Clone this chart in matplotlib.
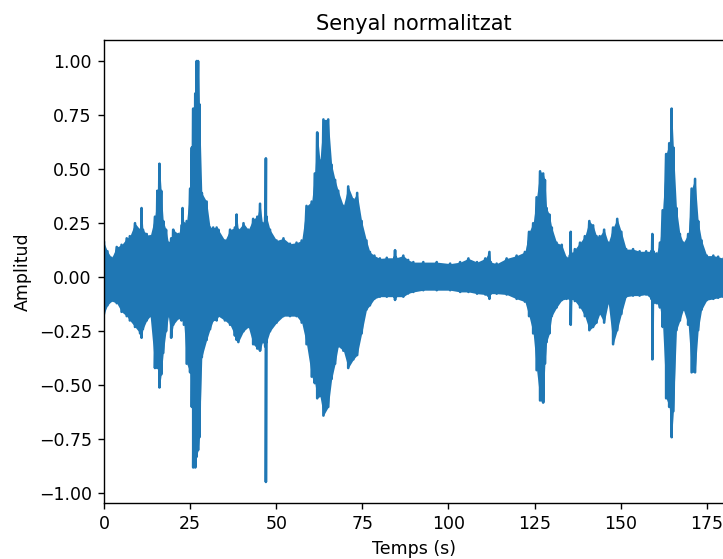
import numpy as np
import matplotlib
matplotlib.use("Agg")
import matplotlib.pyplot as plt
from matplotlib.ticker import MultipleLocator

# envelope of the normalised signal: time (s), positive peak, negative peak
temps = [0.0, 1.0, 2.2, 3.7, 5.1, 6.6, 7.5, 9.0, 10.5, 10.9, 11.3, 12.4, 13.4,
         14.8, 15.5, 16.1, 16.6, 17.2, 18.0, 18.7, 19.5, 20.1, 21.6, 22.5, 22.8,
         23.2, 24.0, 25.0, 25.5, 25.9, 26.5, 26.9, 27.3, 27.7, 28.4, 29.8, 30.8,
         31.7, 32.7, 33.2, 35.1, 36.6, 38.0, 38.5, 39.0, 40.5, 41.9, 43.3, 44.5,
         45.3, 46.0, 46.8, 47.0, 47.2, 48.2, 50.1, 52.1, 54.0, 55.9, 57.4, 58.8,
         60.3, 61.2, 61.9, 62.7, 63.7, 65.1, 66.1, 67.1, 68.0, 69.5, 70.9, 72.4,
         73.5, 74.8, 76.2, 77.2, 78.5, 80.1, 82.1, 84.3, 84.5, 84.8, 86.9, 88.3,
         89.8, 92.7, 96.6, 100.5, 103.4, 105.8, 108.3, 110.7, 111.9, 112.3, 114.0,
         116.9, 119.8, 122.2, 123.4, 124.6, 125.6, 126.6, 127.5, 128.0, 128.5,
         129.3, 130.0, 131.4, 132.9, 134.3, 135.2, 135.5, 135.8, 136.7, 138.2,
         139.6, 140.9, 142.0, 143.0, 143.9, 145.2, 146.4, 147.8, 149.0, 150.2,
         151.6, 153.6, 155.5, 157.4, 158.9, 159.2, 159.5, 160.4, 161.4, 162.2,
         163.2, 164.1, 164.8, 165.3, 166.2, 167.2, 168.2, 169.6, 170.6, 171.6,
         172.5, 173.5, 175.0, 176.9, 178.3, 179.9]

pic_sup = [0.16, 0.12, 0.09, 0.14, 0.15, 0.18, 0.19, 0.25, 0.22, 0.32, 0.22, 0.20, 0.19,
           0.28, 0.40, 0.525, 0.40, 0.26, 0.22, 0.16, 0.18, 0.22, 0.20, 0.24, 0.32,
           0.25, 0.26, 0.41, 0.60, 0.78, 0.85, 1.00, 1.00, 0.80, 0.39, 0.35, 0.23,
           0.23, 0.23, 0.22, 0.17, 0.22, 0.23, 0.29, 0.22, 0.25, 0.22, 0.27, 0.28,
           0.34, 0.25, 0.28, 0.55, 0.28, 0.22, 0.17, 0.18, 0.155, 0.16, 0.17, 0.33,
           0.35, 0.48, 0.67, 0.54, 0.73, 0.73, 0.52, 0.45, 0.40, 0.33, 0.42, 0.36,
           0.39, 0.26, 0.17, 0.117, 0.10, 0.087, 0.09, 0.09, 0.125, 0.09, 0.10, 0.08,
           0.07, 0.07, 0.07, 0.063, 0.07, 0.087, 0.07, 0.087, 0.117, 0.07, 0.063,
           0.087, 0.10, 0.117, 0.21, 0.25, 0.37, 0.49, 0.48, 0.45, 0.32,
           0.29, 0.23, 0.16, 0.15, 0.09, 0.10, 0.21, 0.11, 0.13, 0.16,
           0.19, 0.26, 0.24, 0.19, 0.19, 0.22, 0.16, 0.23, 0.27, 0.21,
           0.13, 0.13, 0.12, 0.12, 0.12, 0.20, 0.12, 0.11, 0.16, 0.31,
           0.57, 0.62, 0.78, 0.60, 0.32, 0.20, 0.16, 0.20, 0.41, 0.455,
           0.26, 0.17, 0.10, 0.10, 0.095, 0.087]

pic_inf = [-0.17, -0.13, -0.11, -0.12, -0.16, -0.18, -0.20, -0.23, -0.26, -0.28, -0.24, -0.20, -0.18,
           -0.42, -0.42, -0.51, -0.45, -0.35, -0.25, -0.18, -0.28, -0.22, -0.19, -0.20, -0.19,
           -0.22, -0.40, -0.44, -0.60, -0.88, -0.88, -0.83, -0.80, -0.74, -0.37, -0.29, -0.24,
           -0.20, -0.20, -0.18, -0.20, -0.22, -0.27, -0.29, -0.30, -0.25, -0.23, -0.31, -0.33,
           -0.34, -0.30, -0.32, -0.947, -0.30, -0.25, -0.21, -0.18, -0.18, -0.18, -0.21, -0.31,
           -0.46, -0.49, -0.56, -0.55, -0.64, -0.60, -0.47, -0.40, -0.32, -0.34, -0.42, -0.38,
           -0.36, -0.26, -0.15, -0.13, -0.10, -0.09, -0.09, -0.09, -0.105, -0.09, -0.09, -0.075,
           -0.068, -0.06, -0.06, -0.06, -0.068, -0.068, -0.076, -0.08, -0.10, -0.076, -0.076,
           -0.08, -0.10, -0.113, -0.18, -0.26, -0.43, -0.57, -0.58, -0.40, -0.30,
           -0.26, -0.18, -0.14, -0.106, -0.10, -0.10, -0.22, -0.10, -0.11, -0.14,
           -0.18, -0.245, -0.23, -0.21, -0.17, -0.21, -0.12, -0.31, -0.245, -0.17,
           -0.09, -0.085, -0.085, -0.08, -0.10, -0.38, -0.12, -0.12, -0.14, -0.23,
           -0.56, -0.60, -0.74, -0.62, -0.245, -0.20, -0.15, -0.22, -0.44, -0.44,
           -0.245, -0.15, -0.106, -0.10, -0.095, -0.09]

t = np.array(temps)
sup = np.array(pic_sup)
inf = np.array(pic_inf)

# zig-zag between the peaks gives the dense oscillation look
xs = np.repeat(t, 2)
ys = np.column_stack([sup, inf]).ravel()

fig = plt.figure(figsize=(723 / 125, 559 / 125), dpi=125)
ax = fig.add_axes([104 / 723, 56 / 559, 620 / 723, 463 / 559])
ax.fill_between(t, inf, sup, color='#1f77b4', lw=0)
ax.plot(xs, ys, color='#1f77b4', lw=1.5)
ax.set_xlim(0, 180)
ax.xaxis.set_major_locator(MultipleLocator(25))
ax.set_title('Senyal normalitzat')
ax.set_xlabel('Temps (s)')
ax.set_ylabel('Amplitud')
fig.savefig('out.png', dpi=125)
